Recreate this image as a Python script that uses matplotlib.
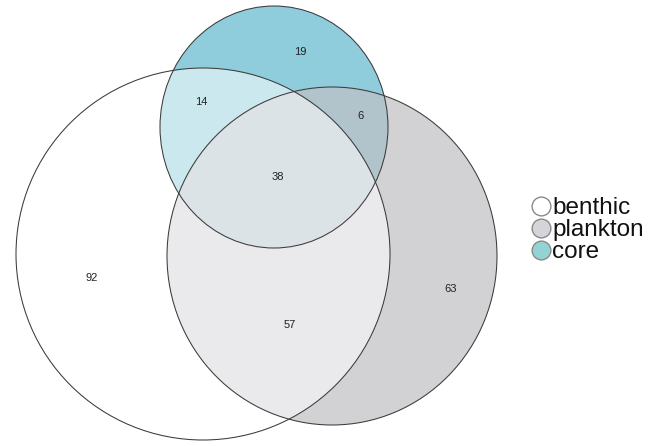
import matplotlib.pyplot as plt
from matplotlib.patches import Ellipse

# set names and region counts
sets = ["benthic", "plankton", "core"]
legend_colors = ["#ffffff", "#d4d4da", "#93d3d3"]

region_labels = ["92", "14", "19", "6", "38", "57", "63"]
region_xy = [(92, 278), (201, 102), (300, 52), (361, 116), (278, 177), (290, 325), (451, 289)]

# ellipse layout in pixel units: (cx, cy, width, height)
benthic_shape = (203, 254, 374, 372)
plankton_shape = (332, 256, 330, 338)
core_shape = (274, 127, 228, 242)

plt.rcParams['font.family'] = ['Liberation Sans', 'DejaVu Sans']

fig = plt.figure(figsize=(6.52, 4.46), dpi=100)
ax = fig.add_axes([0, 0, 1, 1])
ax.set_xlim(0, 652)
ax.set_ylim(446, 0)
ax.axis('off')

edge = '#3a3a3a'
lw = 0.75

# core at the bottom, plankton over it, benthic (white, see-through) on top
cx, cy, w, h = core_shape
ax.add_patch(Ellipse((cx, cy), w, h, facecolor='#8fcddd', edgecolor='none', zorder=1))
cx, cy, w, h = plankton_shape
ax.add_patch(Ellipse((cx, cy), w, h, facecolor='#c0c0c4', alpha=0.7, edgecolor='none', zorder=2))
cx, cy, w, h = benthic_shape
ax.add_patch(Ellipse((cx, cy), w, h, facecolor='#ffffff', alpha=0.55, edgecolor='none', zorder=3))

# outlines
for shp in [core_shape, plankton_shape, benthic_shape]:
    cx, cy, w, h = shp
    ax.add_patch(Ellipse((cx, cy), w, h, facecolor='none', edgecolor=edge, lw=lw, zorder=4))

for lab, (x, y) in zip(region_labels, region_xy):
    ax.text(x, y, lab, fontsize=8, ha='center', va='center', color='#222222', zorder=5)

# legend, drawn by hand so rows sit tight
leg_y = [206, 228, 250]
for name, col, y in zip(sets, legend_colors, leg_y):
    ax.plot([541], [y], marker='o', markersize=13.5, markerfacecolor=col,
            markeredgecolor='#8a8a8a', markeredgewidth=1.0, zorder=5)
    ax.text(552, y + 8, name, fontsize=17.5, ha='left', va='baseline', color='#111111')

fig.savefig('out.png', dpi=100)
